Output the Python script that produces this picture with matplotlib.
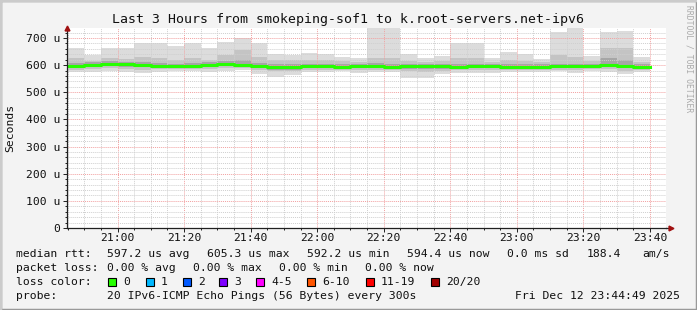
import datetime as dt
import numpy as np
import matplotlib
matplotlib.use("Agg")
import matplotlib.pyplot as plt
import matplotlib.dates as mdates
from matplotlib.patches import Rectangle

# ---- data (35 steps of 300 s) ----
t_start = dt.datetime(2025, 12, 12, 20, 45)
n_steps = 35

rtt_max = [662, 637, 662, 664, 683, 683, 669, 680, 662, 686, 699, 680, 643, 637, 646, 641, 631, 627,
           745, 745, 641, 625, 634, 680, 680, 625, 647, 641, 623, 722, 745, 635, 721, 727, 631]
rtt_p90 = [625, 615, 625, 622, 630, 628, 620, 625, 618, 637, 656, 630, 620, 618, 620, 618, 615, 612,
           628, 628, 615, 612, 615, 625, 625, 612, 618, 615, 612, 637, 630, 614, 662, 662, 612]
rtt_p75 = [608, 610, 614, 612, 612, 608, 606, 608, 610, 616, 620, 608, 604, 603, 606, 606, 604, 604,
           608, 605, 604, 604, 604, 606, 606, 603, 604, 604, 603, 606, 606, 606, 626, 619, 603]
rtt_p60 = [600, 604, 608, 606, 604, 600, 600, 600, 604, 608, 605, 600, 596, 596, 600, 600, 597, 599,
           601, 595, 599, 599, 599, 598, 599, 599, 598, 598, 598, 599, 599, 600, 605, 601, 597]
rtt_med = [597, 601, 605, 603, 601, 597, 597, 597, 601, 605, 602, 597, 593, 593, 597, 597, 594, 596,
           598, 592, 596, 596, 596, 595, 596, 596, 595, 595, 595, 596, 596, 597, 602, 598, 594.4]
rtt_p40 = [591, 595, 599, 597, 595, 591, 591, 591, 595, 599, 596, 591, 587, 587, 591, 591, 588, 590,
           592, 586, 590, 590, 590, 589, 590, 590, 589, 589, 589, 590, 590, 591, 596, 592, 588]
rtt_p25 = [590, 592, 596, 594, 592, 590, 590, 590, 592, 596, 594, 588, 584, 584, 589, 589, 588, 588,
           590, 585, 586, 586, 587, 587, 588, 588, 588, 587, 588, 589, 588, 590, 594, 588, 587]
rtt_p10 = [584, 585, 588, 586, 584, 585, 586, 586, 585, 588, 588, 582, 578, 578, 584, 584, 584, 582,
           584, 582, 578, 576, 580, 582, 582, 582, 584, 583, 584, 584, 582, 585, 586, 580, 583]
rtt_min = [576, 576, 580, 576, 570, 576, 580, 580, 576, 580, 582, 566, 557, 564, 576, 576, 580, 570,
           576, 576, 554, 552, 566, 572, 570, 570, 576, 574, 576, 578, 570, 578, 576, 566, 576]

y_ticks = [0, 100, 200, 300, 400, 500, 600, 700]
y_labels = ["0", "100 u", "200 u", "300 u", "400 u", "500 u", "600 u", "700 u"]

loss_labels = ["0", "1", "2", "3", "4-5", "6-10", "11-19", "20/20"]
loss_colors = ["#26ff00", "#00b8ff", "#0059ff", "#7e00ff", "#ff00ff", "#ff5500", "#ff0000", "#a10000"]

W, H = 697, 310
MONO = "DejaVu Sans Mono"
FS = 8.2

fig = plt.figure(figsize=(W / 100, H / 100), dpi=100)
fig.patch.set_facecolor("#f3f3f3")


def fx(x):
    return x / W


def fy(y):
    return 1 - y / H


# frame around the canvas
fig.add_artist(Rectangle((0, 0), 1, 1, transform=fig.transFigure, fill=False,
                         edgecolor="#999999", lw=2.5))
fig.add_artist(plt.Line2D([0, 0], [0, 1], transform=fig.transFigure, color="#cbcbcb", lw=2.5))
fig.add_artist(plt.Line2D([0, 1], [1, 1], transform=fig.transFigure, color="#cbcbcb", lw=2.5))

# plot area
x0, x1, y0, y1 = 67, 666, 28, 228
ax = fig.add_axes([fx(x0), fy(y1), (x1 - x0) / W, (y1 - y0) / H])
ax.set_facecolor("white")

t0 = t_start - dt.timedelta(seconds=11)
t1 = t0 + dt.timedelta(hours=3)
ax.set_xlim(t0, t1)
ax.set_ylim(0, 737)

starts = [t_start + dt.timedelta(minutes=5 * i) for i in range(n_steps)]
width = 5 / 1440

layers = [
    (rtt_min, rtt_max, "#dcdcdc"),
    (rtt_p10, rtt_p90, "#c4c4c4"),
    (rtt_p25, rtt_p75, "#a6a6a6"),
    (rtt_p40, rtt_p60, "#6e6e6e"),
]
for lo, hi, col in layers:
    lo = np.array(lo, float)
    hi = np.array(hi, float)
    ax.bar(starts, hi - lo, bottom=lo, width=width, align="edge", color=col,
           linewidth=0, zorder=2)

edges = starts + [starts[-1] + dt.timedelta(minutes=5)]
ax.step(edges, list(rtt_med) + [rtt_med[-1]], where="post", color="#26ff00",
        lw=2.2, zorder=4)

# grid
ax.xaxis.set_major_locator(mdates.MinuteLocator(byminute=[0, 20, 40]))
ax.xaxis.set_minor_locator(mdates.MinuteLocator(byminute=range(0, 60, 5)))
ax.xaxis.set_major_formatter(mdates.DateFormatter("%H:%M"))
ax.set_yticks(y_ticks)
ax.set_yticklabels(y_labels)
ax.set_yticks(np.arange(0, 737, 20), minor=True)
ax.grid(which="minor", color="#cfcfcf", linestyle=(0, (1, 1)), lw=0.7, zorder=3)
ax.grid(which="major", color="#f2a0a0", linestyle=(0, (1, 1)), lw=0.7, zorder=3)
ax.set_axisbelow(False)

for s in ["top", "right"]:
    ax.spines[s].set_visible(False)
for s in ["left", "bottom"]:
    ax.spines[s].set_color("#202020")
    ax.spines[s].set_linewidth(0.9)
    ax.spines[s].set_zorder(5)
ax.tick_params(which="major", length=3, width=0.7, color="#202020", labelsize=FS,
               pad=2, labelfontfamily=MONO, labelcolor="#101010")
ax.tick_params(axis="x", which="major", pad=0.5)
ax.tick_params(which="minor", length=1.5, width=0.7, color="#202020")

# axis arrows
ax.plot([0], [1.0], marker="^", color="#a01010", ms=3.5, transform=ax.transAxes,
        clip_on=False, zorder=6)
ax.plot([1.008], [0], marker=">", color="#a01010", ms=3.5, transform=ax.transAxes,
        clip_on=False, zorder=6)
ax.plot([1.0, 1.008], [0, 0], color="#202020", lw=0.9, transform=ax.transAxes,
        clip_on=False, zorder=5)

# title and labels
fig.text(0.5, fy(19), "Last 3 Hours from smokeping-sof1 to k.root-servers.net-ipv6",
         ha="center", va="center", family=MONO, fontsize=9.5, color="#101010")
fig.text(fx(10), fy(128), "Seconds", rotation=90, ha="center", va="center",
         family=MONO, fontsize=FS, color="#101010")
fig.text(fx(689), fy(5), "RRDTOOL / TOBI OETIKER", rotation=270, ha="center", va="top",
         family=MONO, fontsize=5.8, color="#aaaaaa")


def put(x, y, s, ha="left"):
    fig.text(fx(x), fy(y), s, ha=ha, va="center", family=MONO, fontsize=FS, color="#101010")


# legend rows
r1, r2, r3, r4 = 254, 268, 282, 296
put(16, r1, "median rtt:")
put(107, r1, "597.2 us avg")
put(207, r1, "605.3 us max")
put(307, r1, "592.2 us min")
put(407, r1, "594.4 us now")
put(507, r1, "0.0 ms sd")
put(587, r1, "188.4")
put(642, r1, "am/s")

put(16, r2, "packet loss:")
put(107, r2, "0.00 % avg")
put(193, r2, "0.00 % max")
put(279, r2, "0.00 % min")
put(365, r2, "0.00 % now")

put(16, r3, "loss color:")
box_x = [108, 146, 183, 219, 256, 307, 366, 431]
for bx, lab, col in zip(box_x, loss_labels, loss_colors):
    fig.add_artist(Rectangle((fx(bx), fy(r3 + 4)), 8 / W, 8 / H, transform=fig.transFigure,
                             facecolor=col, edgecolor="black", lw=0.8))
    put(bx + 15, r3, lab)

put(16, r4, "probe:")
put(107, r4, "20 IPv6-ICMP Echo Pings (56 Bytes) every 300s")
put(680, r4, "Fri Dec 12 23:44:49 2025", ha="right")

fig.savefig("out.png", dpi=100, facecolor=fig.get_facecolor())
